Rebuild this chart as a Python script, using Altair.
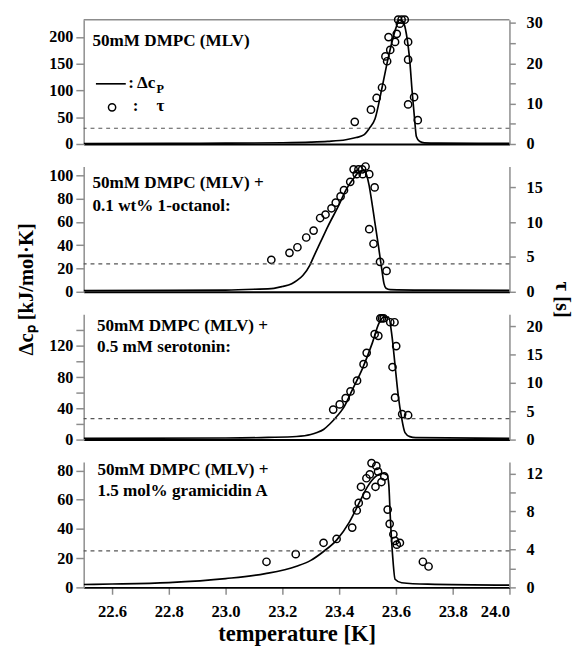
import altair as alt
import pandas as pd

FONT = "Liberation Serif, Times New Roman, serif"
GRAY = "#8c8c8c"
W = 435

# ---- 50mM DMPC (MLV) ----
p1_curve_T = [22.50, 22.80, 23.00, 23.20, 23.30, 23.36, 23.4235, 23.46, 23.487, 23.506, 23.5265,
              23.551, 23.575, 23.599, 23.614, 23.626, 23.637, 23.649, 23.657, 23.666, 23.672,
              23.683, 23.700, 23.75, 24.00]
p1_curve_dcp = [1.0, 1.2, 1.5, 2.3, 3.5, 5, 8, 12, 17, 29, 47, 105, 166, 215, 233, 228, 205, 154,
                99, 45, 14, 5, 2.2, 1.6, 1.2]
p1_tau_T = [23.455, 23.512, 23.532, 23.551, 23.569, 23.563, 23.580, 23.574, 23.597, 23.603,
            23.608, 23.614, 23.620, 23.631, 23.643, 23.643, 23.664, 23.643, 23.677]
p1_tau = [5.5, 8.5, 11.4, 14.0, 20.5, 21.7, 23.3, 26.5, 25.3, 27.3, 30.8, 29.8, 30.8, 30.8,
          25.3, 20.9, 11.6, 9.8, 5.9]

# ---- + 0.1 wt% 1-octanol ----
p2_curve_T = [22.50, 22.80, 23.00, 23.10, 23.17, 23.20, 23.233, 23.253, 23.272, 23.297, 23.31,
              23.335, 23.36, 23.398, 23.425, 23.45, 23.471, 23.487, 23.497, 23.505, 23.512,
              23.525, 23.538, 23.551, 23.558, 23.565, 23.58, 23.70, 24.00]
p2_curve_dcp = [1.0, 1.2, 1.5, 2.2, 3.0, 4.5, 7, 10, 14, 23, 30, 43, 56, 74, 88, 97, 103, 104,
                100, 92, 82, 61, 40, 18, 7, 3, 1.8, 1.4, 1.2]
p2_tau_T = [23.161, 23.225, 23.253, 23.284, 23.310, 23.333, 23.352, 23.373, 23.388, 23.405,
            23.417, 23.439, 23.451, 23.468, 23.481, 23.493, 23.462, 23.483, 23.506, 23.525,
            23.506, 23.521, 23.544, 23.567]
p2_tau = [4.6, 5.6, 6.4, 7.8, 8.8, 10.6, 11.1, 12.0, 12.8, 13.7, 14.6, 15.8, 17.6, 17.6, 17.6,
          18.0, 16.9, 16.9, 16.9, 15.0, 9.0, 6.9, 4.3, 3.0]

# ---- + 0.5 mM serotonin ----
p3_curve_T = [22.50, 23.00, 23.15, 23.25, 23.30, 23.322, 23.345, 23.367, 23.39, 23.414, 23.448,
              23.482, 23.517, 23.540, 23.557, 23.574, 23.586, 23.597, 23.608, 23.620, 23.632,
              23.649, 23.67, 24.00]
p3_curve_dcp = [1.5, 2.0, 2.8, 4.0, 6.5, 9, 13, 20, 29, 40, 65, 91, 124, 149, 157, 157, 133, 95,
                57, 28, 9, 3.8, 2.5, 1.5]
p3_tau_T = [23.379, 23.402, 23.423, 23.440, 23.463, 23.486, 23.497, 23.525, 23.538, 23.545,
            23.551, 23.557, 23.580, 23.595, 23.601, 23.588, 23.597, 23.622, 23.643]
p3_tau = [5.3, 6.2, 7.3, 8.5, 10.4, 13.3, 15.3, 18.6, 18.3, 21.4, 21.4, 21.4, 20.7, 20.7, 16.5,
          12.8, 7.4, 4.5, 4.3]

# ---- + 1.5 mol% gramicidin A ----
p4_curve_T = [22.50, 22.60, 22.80, 23.00, 23.14, 23.25, 23.30, 23.345, 23.391, 23.436, 23.471,
              23.50, 23.529, 23.551, 23.569, 23.575, 23.580, 23.589, 23.597, 23.62, 23.712, 24.00]
p4_curve_dcp = [2.0, 2.3, 3.3, 6.0, 9.4, 14.5, 18.5, 24.6, 32.4, 44.7, 58, 69, 76, 78, 77, 70,
                49, 20, 5.6, 3.2, 2.2, 1.5]
p4_tau_T = [23.144, 23.247, 23.345, 23.391, 23.446, 23.462, 23.469, 23.477, 23.496, 23.496,
            23.508, 23.514, 23.531, 23.537, 23.528, 23.549, 23.559, 23.571, 23.578, 23.591,
            23.597, 23.603, 23.614, 23.695, 23.715]
p4_tau = [2.7, 3.5, 4.7, 5.1, 6.3, 8.1, 8.9, 10.6, 9.7, 11.5, 11.9, 13.1, 12.8, 12.2, 10.6, 11.1,
          11.7, 8.2, 6.7, 5.6, 4.9, 4.5, 4.7, 2.7, 2.2]

# dashed reference level of tau in each panel [s]
tau_ref = [3.9, 4.0, 3.7, 3.85]

panel_labels = [
    ["50mM DMPC (MLV)"],
    ["50mM DMPC (MLV) +", "0.1 wt% 1-octanol:"],
    ["50mM DMPC (MLV) +", "0.5 mM serotonin:"],
    ["50mM DMPC (MLV) +", "1.5 mol% gramicidin A"],
]
temp_ticks = [22.6, 22.8, 23.0, 23.2, 23.4, 23.6, 23.8, 24.0]

x_scale = alt.Scale(domain=[22.5, 24.0], nice=False, zero=False)


def x_axis(bottom):
    if bottom:
        return alt.Axis(values=temp_ticks, format=".1f", title="temperature [K]",
                        domainColor="black", domainWidth=2, tickColor=GRAY, tickWidth=1.5,
                        tickSize=7, labelFontSize=17, labelPadding=10, titleFontSize=23,
                        titlePadding=3, labelFont=FONT, titleFont=FONT)
    return alt.Axis(labels=False, ticks=False, title=None, domainColor="black", domainWidth=2)


def text_layer(s, x, y, size=17.5, align="left"):
    return alt.Chart(pd.DataFrame({"s": [s]})).mark_text(
        align=align, baseline="middle", font=FONT, fontSize=size, fontWeight="bold",
        color="black").encode(x=alt.value(x), y=alt.value(y), text="s:N")


def panel(curve_T, curve_dcp, tau_T, tau, ref, height, dcp_top, dcp_ticks, dcp_step,
          tau_top, tau_ticks, tau_step, labels, label_x, label_y, bottom=False,
          left_title=None, right_title=None):
    curve = pd.DataFrame({"T": curve_T, "dcp": curve_dcp})
    pts = pd.DataFrame({"T": tau_T, "tau": tau})

    left_axis = dict(values=dcp_ticks, labelExpr=f"datum.value % {dcp_step} == 0 ? datum.label : ''",
                     orient="left", tickSize=8, tickWidth=1.5, domainWidth=1.5,
                     labelFontSize=16.5, labelPadding=3, title=None, labelFont=FONT)
    if left_title:
        left_axis.update(title=left_title, titleFontSize=21, titleX=-52, titleY=125,
                         titleAlign="center", titleBaseline="alphabetic", titleAngle=-90,
                         titleFont=FONT)
    right_axis = dict(values=tau_ticks, labelExpr=f"datum.value % {tau_step} == 0 ? datum.label : ''",
                      orient="right", tickSize=6, tickWidth=1.5, domainWidth=1.5,
                      labelFontSize=16.5, labelPadding=11, title=None, labelFont=FONT)
    if right_title:
        right_axis.update(title=right_title, titleFontSize=21, titleX=47, titleY=117,
                          titleAlign="left", titleBaseline="alphabetic", titleAngle=90,
                          titleFont=FONT)

    tau_scale = alt.Scale(domain=[0, tau_top], nice=False, zero=False)

    line = alt.Chart(curve).mark_line(color="black", strokeWidth=1.7, clip=True,
                                      interpolate="monotone").encode(
        x=alt.X("T:Q", scale=x_scale, axis=x_axis(bottom)),
        y=alt.Y("dcp:Q", scale=alt.Scale(domain=[0, dcp_top], nice=False, zero=False),
                axis=alt.Axis(**left_axis)),
    )

    circles = alt.Chart(pts).mark_point(shape="circle", filled=False, color="black", size=55,
                                        strokeWidth=1.5, opacity=1).encode(
        x=alt.X("T:Q", scale=x_scale, axis=x_axis(bottom)),
        y=alt.Y("tau:Q", scale=tau_scale, axis=alt.Axis(**right_axis)),
    )
    dashed = alt.Chart(pd.DataFrame({"tau": [ref]})).mark_rule(
        color="#555555", strokeWidth=1.2, strokeDash=[4, 4]).encode(
        y=alt.Y("tau:Q", scale=tau_scale, axis=alt.Axis(**right_axis)),
    )

    left_layers = [line] + [text_layer(lab, label_x, label_y[i]) for i, lab in enumerate(labels)]
    return left_layers, [circles, dashed]


def legend_layers():
    glyph_line = alt.Chart(pd.DataFrame({"k": ["dcp"]})).mark_rule(
        color="black", strokeWidth=1.7).encode(
        x=alt.value(12.5), x2=alt.value(43), y=alt.value(65.5))
    glyph_circle = alt.Chart(pd.DataFrame({"k": ["tau"]})).mark_point(
        shape="circle", filled=False, color="black", size=55, strokeWidth=1.5, opacity=1).encode(
        x=alt.value(29), y=alt.value(89.5))
    return [glyph_line, glyph_circle,
            text_layer(":", 45.5, 64.5), text_layer("Δc", 54.5, 64.5),
            text_layer("P", 74.5, 70.5, size=12.5),
            text_layer(":", 50, 88.5), text_layer("τ", 78.5, 88.5, align="center")]


def top_border():
    return alt.Chart(pd.DataFrame({"k": ["top"]})).mark_rule(color=GRAY, strokeWidth=1.5).encode(
        x=alt.value(0), x2=alt.value(W), y=alt.value(0))


specs = [
    dict(curve_T=p1_curve_T, curve_dcp=p1_curve_dcp, tau_T=p1_tau_T, tau=p1_tau, ref=tau_ref[0],
         height=127, dcp_top=232.2, dcp_ticks=[0, 50, 100, 150, 200], dcp_step=50,
         tau_top=30.8, tau_ticks=[0, 5, 10, 15, 20, 25, 30], tau_step=10,
         labels=panel_labels[0], label_x=9, label_y=[22]),
    dict(curve_T=p2_curve_T, curve_dcp=p2_curve_dcp, tau_T=p2_tau_T, tau=p2_tau, ref=tau_ref[1],
         height=128, dcp_top=107.6, dcp_ticks=[0, 20, 40, 60, 80, 100], dcp_step=20,
         tau_top=18.0, tau_ticks=[0, 5, 10, 15], tau_step=5,
         labels=panel_labels[1], label_x=9, label_y=[17, 40.5],
         left_title="Δcₚ [kJ/mol·K]", right_title="τ [s]"),
    dict(curve_T=p3_curve_T, curve_dcp=p3_curve_dcp, tau_T=p3_tau_T, tau=p3_tau, ref=tau_ref[2],
         height=128, dcp_top=160.6, dcp_ticks=[0, 20, 40, 60, 80, 100, 120, 140], dcp_step=40,
         tau_top=22.1, tau_ticks=[0, 5, 10, 15, 20], tau_step=5,
         labels=panel_labels[2], label_x=13.5, label_y=[12, 33.5]),
    dict(curve_T=p4_curve_T, curve_dcp=p4_curve_dcp, tau_T=p4_tau_T, tau=p4_tau, ref=tau_ref[3],
         height=128, dcp_top=85.8, dcp_ticks=[0, 20, 40, 60, 80], dcp_step=20,
         tau_top=13.2, tau_ticks=[0, 2, 4, 6, 8, 10, 12], tau_step=4,
         labels=panel_labels[3], label_x=14, label_y=[8, 29.5], bottom=True),
]

panels = []
for i, s in enumerate(specs):
    left_layers, right_layers = panel(**s)
    if i == 0:
        left_layers = left_layers + legend_layers() + [top_border()]
    left = alt.layer(*left_layers)
    right = alt.layer(*right_layers)
    p = alt.layer(left, right).resolve_scale(y="independent").resolve_axis(
        y="independent").properties(width=W, height=s["height"])
    panels.append(p)

chart = alt.vconcat(*panels, spacing=23, bounds="flush").properties(
    padding={"left": 15.5, "top": 6, "right": 5, "bottom": 5}
).configure_axis(
    labelFontWeight="bold", titleFontWeight="bold",
    labelColor="black", titleColor="black", domainColor=GRAY, tickColor=GRAY, grid=False,
).configure_view(stroke=None)

chart.save("out.html", embed_options={"renderer": "svg", "actions": False})
